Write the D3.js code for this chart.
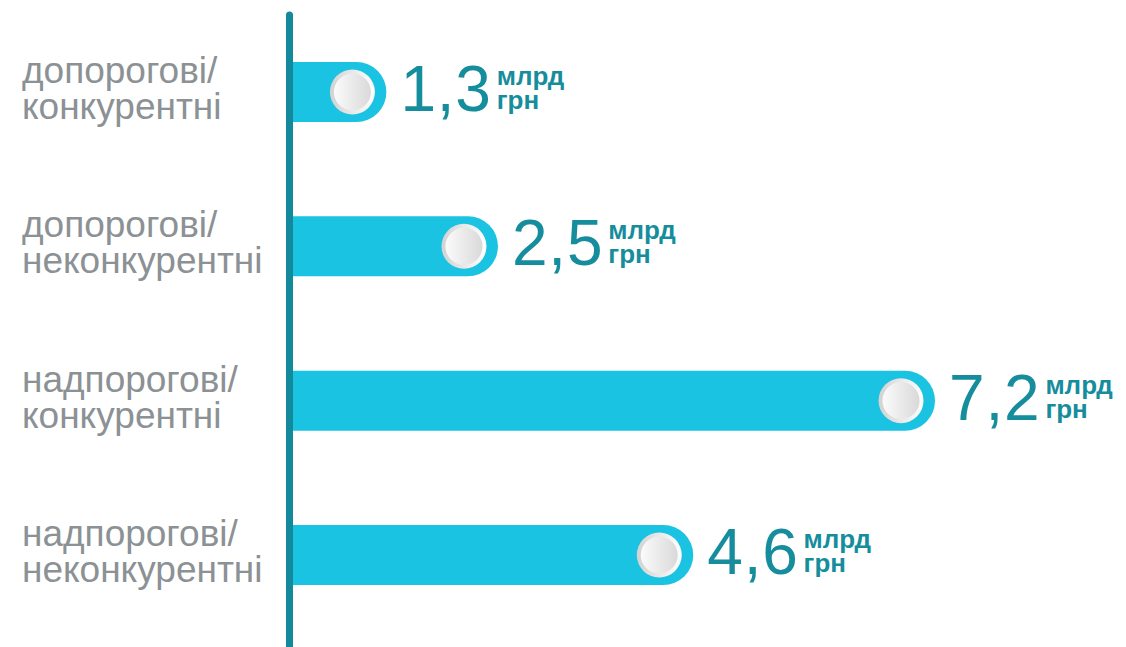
<!DOCTYPE html>
<html>
<head>
<meta charset="utf-8">
<script src="https://cdn.jsdelivr.net/npm/d3@7"></script>
<style>
  html, body { margin: 0; padding: 0; background: #ffffff; }
  svg { display: block; }
</style>
</head>
<body>
<script>
// ---- data ----
const categories = [
  ["допорогові/", "конкурентні"],
  ["допорогові/", "неконкурентні"],
  ["надпорогові/", "конкурентні"],
  ["надпорогові/", "неконкурентні"]
];
const values = [1.3, 2.5, 7.2, 4.6];
const unitLines = ["млрд", "грн"];

// ---- layout ----
const W = 1126, H = 647;
const axisX = 289.5;
const barH = 60;
const r = barH / 2;

const svg = d3.select("body").append("svg").attr("width", W).attr("height", H);

const defs = svg.append("defs");
const gOuter = defs.append("linearGradient").attr("id", "knobOuter").attr("x1", 0).attr("y1", 0).attr("x2", 1).attr("y2", 0);
gOuter.append("stop").attr("offset", "0%").attr("stop-color", "#d2d2d2");
gOuter.append("stop").attr("offset", "100%").attr("stop-color", "#ffffff");
const gInner = defs.append("linearGradient").attr("id", "knobInner").attr("x1", 0).attr("y1", 0).attr("x2", 1).attr("y2", 0);
gInner.append("stop").attr("offset", "0%").attr("stop-color", "#fbfbfb");
gInner.append("stop").attr("offset", "100%").attr("stop-color", "#d9d9d9");

const idx = d3.range(categories.length);
const y = d3.scalePoint().domain(idx).range([92, 555]);
const x = d3.scaleLinear().domain([0, 7.2]).range([265.5, 935]);
const fmt = v => d3.format(".1f")(v).replace(".", ",");

const barPath = (x0, x1, cy) => {
  const top = cy - r, bot = cy + r;
  return `M${x0},${top}H${x1 - r}A${r},${r} 0 0 1 ${x1 - r},${bot}H${x0}Z`;
};

const rows = svg.selectAll("g.row").data(idx).join("g").attr("class", "row");

rows.append("path")
  .attr("d", i => barPath(axisX - 2, x(values[i]), y(i)))
  .attr("fill", "#19c3e1");

rows.append("circle")
  .attr("cx", i => x(values[i]) - 34)
  .attr("cy", i => y(i))
  .attr("r", 22.5)
  .attr("fill", "url(#knobOuter)");
rows.append("circle")
  .attr("cx", i => x(values[i]) - 34)
  .attr("cy", i => y(i))
  .attr("r", 18.5)
  .attr("fill", "url(#knobInner)");

// value labels
rows.append("text")
  .attr("class", "val")
  .attr("x", i => x(values[i]) + 14)
  .attr("y", i => y(i) + 19)
  .attr("font-family", "'Liberation Sans', Arial, sans-serif")
  .attr("font-size", 64)
  .attr("letter-spacing", 0.8)
  .attr("fill", "#168d9d")
  .text(i => fmt(values[i]));

rows.each(function(i) {
  const g = d3.select(this);
  const t = g.select("text.val").node();
  const endX = x(values[i]) + 14 + t.getComputedTextLength() + 5;
  unitLines.forEach((u, k) => {
    g.append("text")
      .attr("x", endX)
      .attr("y", y(i) - 7 + k * 24)
      .attr("font-family", "'Liberation Sans', Arial, sans-serif")
      .attr("font-size", 26)
      .attr("font-weight", "bold")
      .attr("fill", "#168d9d")
      .text(u);
  });
});

// category labels
rows.append("text")
  .attr("x", 22)
  .attr("y", i => y(i) - 9)
  .attr("font-family", "'Liberation Sans', Arial, sans-serif")
  .attr("font-size", 37)
  .attr("fill", "#8b9194")
  .each(function(i) {
    const t = d3.select(this);
    categories[i].forEach((line, k) => {
      t.append("tspan").attr("x", 22).attr("dy", k === 0 ? 0 : 36).text(line);
    });
  });

// axis line
svg.append("line")
  .attr("x1", axisX).attr("x2", axisX)
  .attr("y1", 15).attr("y2", H + 10)
  .attr("stroke", "#128a9b")
  .attr("stroke-width", 7)
  .attr("stroke-linecap", "round");
</script>
</body>
</html>
